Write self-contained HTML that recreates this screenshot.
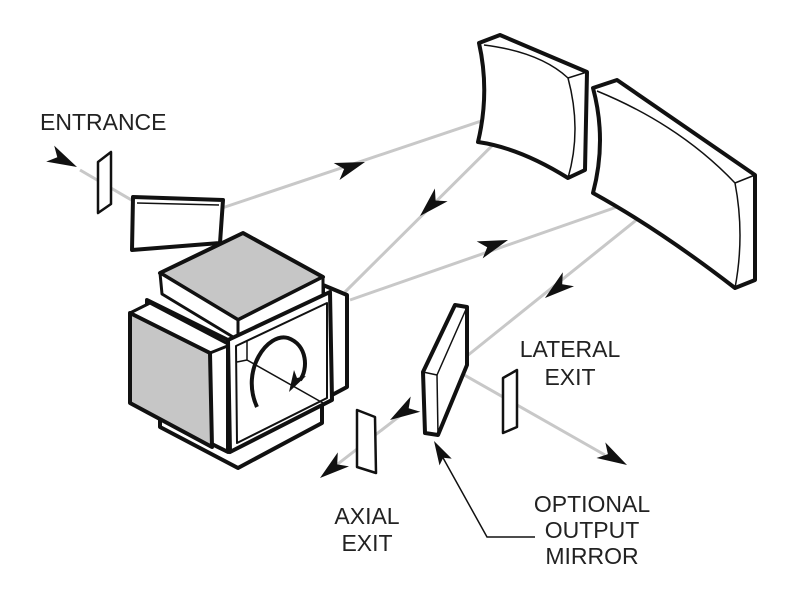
<!DOCTYPE html>
<html><head><meta charset="utf-8"><style>
html,body{margin:0;padding:0;background:#fff;}
svg{display:block;}
text{font-family:"Liberation Sans",Arial,sans-serif;font-size:23px;fill:#222;}
</style></head><body>
<svg width="785" height="600" viewBox="0 0 785 600" xmlns="http://www.w3.org/2000/svg">
<g fill="none" stroke="#c8c8c8" stroke-width="3">
<line x1="80" y1="170" x2="140" y2="205"/>
<polyline points="140,205 180,222 218,211" stroke-dasharray="7,6"/>
<line x1="222" y1="208" x2="535" y2="103"/>
<line x1="535" y1="103" x2="345" y2="292"/>
<line x1="350" y1="300" x2="680" y2="185"/>
<line x1="680" y1="185" x2="452" y2="368"/>
<line x1="452" y1="368" x2="605" y2="455"/>
<line x1="405" y1="412" x2="330" y2="470"/>
</g>
<g fill="#111">
<polygon points="77,167 46.2,161.6 57.3,157.2 54.2,145.6"/>
<polygon points="365,162 339.5,180 344.1,169 333.7,163"/>
<polygon points="420,216 447.6,201.3 435.6,200.5 434.9,188.5"/>
<polygon points="508,240 482.7,258.4 487.2,247.2 476.7,241.4"/>
<polygon points="545,298 574,286.2 562.2,284.2 562.8,272.2"/>
<polygon points="627,465 596.5,458 607.9,454.1 605.3,442.4"/>
<polygon points="390,420 420.3,411.8 408.7,408.3 410.7,396.5"/>
<polygon points="320,478 349,466.4 337.2,464.4 337.8,452.4"/>
<polygon points="434,441 451.7,458.6 443.2,457.7 439.5,465.4"/>
</g>
<polyline points="535,537 487,537 442,456" fill="none" stroke="#111" stroke-width="1.5"/>
<g stroke="#111" stroke-linejoin="round">
<polygon points="98,162 111,152 111,204 98,213" fill="#fff" stroke-width="2.5"/>
<polygon points="133,197 223,200 220,243 132,250" fill="#fff" stroke-width="4"/>
<line x1="137" y1="203" x2="219" y2="205" stroke-width="1.5"/>
<path d="M479,43 L500,35 L587,72 L585,170 L568,178 Q520,148 478,142 Q490,92 479,43 Z" fill="#fff" stroke-width="4"/>
<path d="M484,45 Q540,52 568,78 L587,72 M568,78 Q582,130 568,178" fill="none" stroke-width="1.5"/>
<path d="M593,88 L617,80 L755,175 L755,280 L735,288 Q660,230 593,193 Q607,140 593,88 Z" fill="#fff" stroke-width="4"/>
<path d="M597,91 Q680,125 735,183 L755,175 M735,183 Q745,235 735,288" fill="none" stroke-width="1.5"/>
<polygon points="323,285 347,295 347,387 332,395 323,390" fill="#fff" stroke-width="4"/>
<polygon points="160,410 160,427 238,468 322,423 322,405" fill="#fff" stroke-width="4"/>
<polygon points="147,300 228,340 228,452 147,412" fill="#fff" stroke-width="4"/>
<polygon points="130,313 150,303 230,345 210,353" fill="#fff" stroke-width="3"/>
<polygon points="130,313 210,353 212,447 130,403" fill="#c6c6c6" stroke-width="4"/>
<polygon points="160,273 243,233 323,277 238,320" fill="#c6c6c6" stroke-width="4"/>
<polygon points="160,273 238,320 238,340 162,294" fill="#fff" stroke-width="3"/>
<polygon points="238,320 323,277 323,297 238,340" fill="#fff" stroke-width="3"/>
<polygon points="228,340 330,292 332,400 230,452" fill="#fff" stroke-width="4"/>
<polygon points="236,346 327,303 327,398 237,443" fill="#fff" stroke-width="2"/>
<polyline points="247,341 247,360 323,403" fill="none" stroke-width="1.5"/>
<line x1="237" y1="362" x2="247" y2="360" stroke-width="1.5"/>
<polygon points="423,372 455,305 467,307 467,365 438,435 425,433" fill="#fff" stroke-width="4"/>
<polyline points="423,372 437,375 467,307" fill="none" stroke-width="1.5"/>
<line x1="437" y1="375" x2="438" y2="435" stroke-width="1.5"/>
<polygon points="357,410 375,417 376,473 357,467" fill="#fff" stroke-width="2.5"/>
<polygon points="503,378 517,370 517,427 503,433" fill="#fff" stroke-width="2.5"/>
</g>
<path d="M257,407 C240,370 268,332 288,338 C308,345 308,370 300,380" fill="none" stroke="#111" stroke-width="4"/>
<polygon points="289,392 306,376 297,378 294,370" fill="#111"/>
<text x="40" y="130">ENTRANCE</text>
<text x="570" y="357" text-anchor="middle">LATERAL</text>
<text x="570" y="385" text-anchor="middle">EXIT</text>
<text x="367" y="524" text-anchor="middle">AXIAL</text>
<text x="367" y="551" text-anchor="middle">EXIT</text>
<text x="592" y="512" text-anchor="middle">OPTIONAL</text>
<text x="592" y="538" text-anchor="middle">OUTPUT</text>
<text x="592" y="564" text-anchor="middle">MIRROR</text>
</svg>
</body></html>
